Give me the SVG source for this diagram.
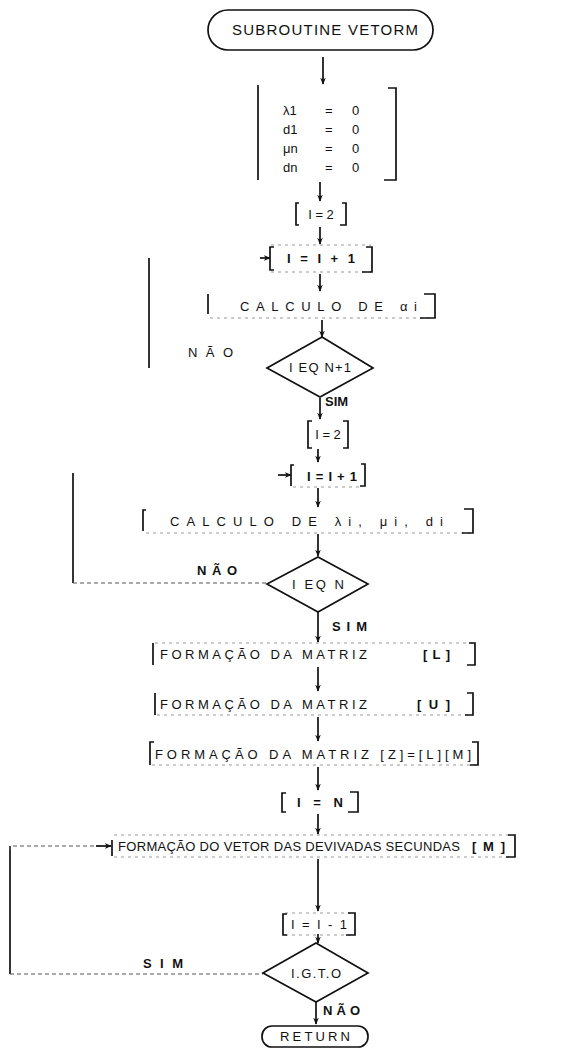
<svg xmlns="http://www.w3.org/2000/svg" width="570" height="1049" viewBox="0 0 570 1049">
<defs>
<marker id="ah" viewBox="0 0 10 10" refX="9" refY="5" markerWidth="7" markerHeight="7" orient="auto" markerUnits="userSpaceOnUse">
<path d="M0,1 L10,5 L0,9 L3,5 z" fill="#111"/>
</marker>
<style>
.ln{stroke:#111;stroke-width:1.7;fill:none}
.fa{stroke:#999;stroke-width:1;stroke-dasharray:3 4;fill:none}
.dt{stroke:#555;stroke-width:1.2;stroke-dasharray:4 3;fill:none}
.ar{stroke:#111;stroke-width:1.7;fill:none;marker-end:url(#ah)}
.t{font-family:"Liberation Sans",Arial,sans-serif;font-size:13px;fill:#111}
.tb{font-family:"Liberation Sans",Arial,sans-serif;font-size:13px;fill:#111;font-weight:bold}
.tl{font-family:"Liberation Sans",Arial,sans-serif;font-size:15px;fill:#111}
</style>
</defs>
<rect width="570" height="1049" fill="#fff"/>

<g id="connectors">
<line class="ar" x1="323" y1="57" x2="323" y2="84"/>
<line class="ar" x1="320" y1="182" x2="320" y2="201"/>
<line class="ar" x1="320" y1="227" x2="320" y2="244"/>
<line class="ar" x1="320" y1="274" x2="320" y2="291"/>
<line class="ar" x1="322" y1="320" x2="322" y2="337"/>
<line class="ar" x1="320" y1="398" x2="320" y2="419"/>
<line class="ar" x1="318" y1="449" x2="318" y2="462"/>
<line class="ar" x1="318" y1="488" x2="318" y2="507"/>
<line class="ar" x1="318" y1="534" x2="318" y2="556"/>
<line class="ar" x1="318" y1="612" x2="318" y2="642"/>
<line class="ar" x1="318" y1="667" x2="318" y2="691"/>
<line class="ar" x1="318" y1="717" x2="318" y2="741"/>
<line class="ar" x1="318" y1="767" x2="318" y2="790"/>
<line class="ar" x1="318" y1="814" x2="318" y2="834"/>
<line class="ar" x1="318" y1="859" x2="318" y2="911"/>
<line class="ar" x1="318" y1="934" x2="318" y2="943"/>
<line class="ar" x1="316" y1="1002" x2="316" y2="1024"/>
<line class="ln" x1="149" y1="258" x2="149" y2="368"/>
<line class="ar" x1="260" y1="258" x2="270" y2="258"/>
<line class="ln" x1="73" y1="473" x2="73" y2="583"/>
<line class="dt" x1="73" y1="583" x2="267" y2="583"/>
<line class="ar" x1="278" y1="475" x2="291" y2="475"/>
<line class="ln" x1="10" y1="846" x2="10" y2="974"/>
<path class="dt" d="M10,850 V846 H100"/>
<line class="ar" x1="96" y1="846" x2="111" y2="846"/>
<line class="dt" x1="10" y1="974" x2="263" y2="974"/>
</g>

<g id="start">
<rect class="ln" x="208" y="10" width="225" height="40" rx="20"/>
<text class="tl" x="232" y="35" textLength="186" lengthAdjust="spacing">SUBROUTINE VETORM</text>
</g>

<g id="init">
<line class="ln" x1="258" y1="85" x2="258" y2="180"/>
<path class="ln" d="M388,88 H396 V180 H384"/>
<text class="t" x="283" y="115">λ1</text>
<text class="t" x="283" y="134">d1</text>
<text class="t" x="283" y="153">μn</text>
<text class="t" x="283" y="172">dn</text>
<text class="t" x="325" y="115">=</text>
<text class="t" x="325" y="134">=</text>
<text class="t" x="325" y="153">=</text>
<text class="t" x="325" y="172">=</text>
<text class="t" x="352" y="115">0</text>
<text class="t" x="352" y="134">0</text>
<text class="t" x="352" y="153">0</text>
<text class="t" x="352" y="172">0</text>
</g>

<g id="i2a">
<path class="ln" d="M299,203 H296 V225 H299"/>
<path class="ln" d="M342,203 H346 V225 H340"/>
<text class="t" x="321" y="219" text-anchor="middle">I = 2</text>
</g>

<g id="inc1">
<line class="fa" x1="271" y1="245" x2="371" y2="245"/>
<line class="fa" x1="271" y1="272" x2="371" y2="272"/>
<path class="ln" d="M274,247 H270 V270 H274"/>
<path class="ln" d="M366,247 H372 V272 H362"/>
<text class="tb" x="321" y="263" text-anchor="middle" textLength="68" lengthAdjust="spacing">I = I + 1</text>
</g>

<g id="calc1">
<line class="fa" x1="210" y1="318" x2="433" y2="318"/>
<path class="ln" d="M208,294 V314"/>
<path class="ln" d="M424,294 H435 V318 H420"/>
<text class="t" x="240" y="311" textLength="177" lengthAdjust="spacing">CALCULO DE αi</text>
</g>

<g id="d1">
<polygon class="ln" points="322,337 373,368 320,397 267,368"/>
<text class="t" x="320" y="372" text-anchor="middle" textLength="62" lengthAdjust="spacing">I EQ N+1</text>
<text class="t" x="188" y="357" textLength="45" lengthAdjust="spacing">NÃO</text>
<text class="tb" x="325" y="406" font-size="11">SIM</text>
</g>

<g id="i2b">
<path class="ln" d="M312,421 H308 V448 H312"/>
<path class="ln" d="M343,421 H348 V448 H343"/>
<text class="t" x="328" y="439" text-anchor="middle">I = 2</text>
</g>

<g id="inc2">
<line class="fa" x1="293" y1="487" x2="362" y2="487"/>
<path class="ln" d="M294,465 H291 V486"/>
<path class="ln" d="M361,464 H365 V486 H360"/>
<text class="tb" x="332" y="481" text-anchor="middle" font-size="14" textLength="50" lengthAdjust="spacing">I=I+1</text>
</g>

<g id="calc2">
<line class="fa" x1="146" y1="533" x2="470" y2="533"/>
<path class="ln" d="M146,510 H143 V531"/>
<path class="ln" d="M464,509 H473 V533 H462"/>
<text class="t" x="170" y="526" textLength="273" lengthAdjust="spacing">CALCULO DE  λi, μi, di</text>
</g>

<g id="d2">
<polygon class="ln" points="318,557 368,584 318,612 267,584"/>
<text class="t" x="318" y="589" text-anchor="middle" textLength="52" lengthAdjust="spacing">I EQ  N</text>
<text class="tb" x="197" y="575" textLength="40" lengthAdjust="spacing">NÃO</text>
<text class="tb" x="332" y="631" textLength="35" lengthAdjust="spacing">SIM</text>
</g>

<g id="matL">
<line class="fa" x1="155" y1="643" x2="473" y2="643"/>
<path class="ln" d="M153,643 V665"/>
<path class="ln" d="M469,643 H475 V665 H467"/>
<text class="t" x="160" y="659" textLength="207" lengthAdjust="spacing">FORMAÇÃO DA MATRIZ</text>
<text class="tb" x="423" y="659" textLength="27" lengthAdjust="spacing">[L]</text>
</g>

<g id="matU">
<line class="fa" x1="157" y1="715" x2="471" y2="715"/>
<path class="ln" d="M155,693 V715"/>
<path class="ln" d="M467,693 H473 V715 H465"/>
<text class="t" x="160" y="709" textLength="207" lengthAdjust="spacing">FORMAÇÃO DA MATRIZ</text>
<text class="tb" x="417" y="709" textLength="33" lengthAdjust="spacing">[U]</text>
</g>

<g id="matZ">
<line class="fa" x1="152" y1="765" x2="476" y2="765"/>
<path class="ln" d="M154,742 H150 V765"/>
<path class="ln" d="M472,742 H478 V765 H470"/>
<text class="t" x="155" y="759" textLength="316" lengthAdjust="spacing">FORMAÇÃO DA MATRIZ [Z]=[L][M]</text>
</g>

<g id="iN">
<path class="ln" d="M286,793 H282 V812 H286"/>
<path class="ln" d="M350,792 H358 V812 H348"/>
<text class="tb" x="320" y="807" text-anchor="middle" textLength="46" lengthAdjust="spacing">I = N</text>
</g>

<g id="vecM">
<line class="fa" x1="114" y1="835" x2="512" y2="835"/>
<line class="fa" x1="114" y1="857" x2="512" y2="857"/>
<path class="ln" d="M112,840 V856"/>
<path class="ln" d="M508,835 H515 V857 H506"/>
<text class="t" x="118" y="851" textLength="342" lengthAdjust="spacing">FORMAÇÃO DO VETOR DAS DEVIVADAS SECUNDAS</text>
<text class="tb" x="472" y="851" textLength="33" lengthAdjust="spacing">[M]</text>
</g>

<g id="dec">
<line class="fa" x1="285" y1="913" x2="353" y2="913"/>
<line class="fa" x1="285" y1="935" x2="353" y2="935"/>
<path class="ln" d="M287,914 H283 V935 H287"/>
<path class="ln" d="M348,913 H355 V935 H346"/>
<text class="t" x="319" y="929" text-anchor="middle" textLength="56" lengthAdjust="spacing">I = I - 1</text>
</g>

<g id="d3">
<polygon class="ln" points="316,943 368,973 316,1002 263,973"/>
<text class="t" x="316" y="978" text-anchor="middle" textLength="50" lengthAdjust="spacing">I.G.T.O</text>
<text class="tb" x="143" y="968" textLength="40" lengthAdjust="spacing">SIM</text>
<text class="tb" x="323" y="1015" textLength="37" lengthAdjust="spacing">NÃO</text>
</g>

<g id="end">
<rect class="ln" x="262" y="1026" width="106" height="21" rx="10"/>
<text class="t" x="315" y="1041" text-anchor="middle" textLength="70" lengthAdjust="spacing">RETURN</text>
</g>
</svg>
